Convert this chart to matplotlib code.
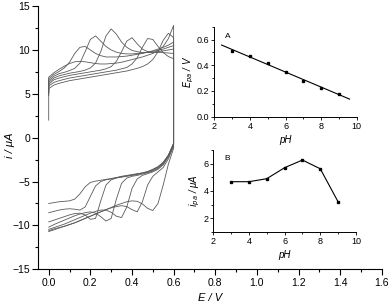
import numpy as np
import matplotlib
matplotlib.use('Agg')
import matplotlib.pyplot as plt
from matplotlib.ticker import MultipleLocator

plt.rcParams['font.family'] = ['Liberation Sans', 'DejaVu Sans']

# --- cyclic voltammograms, pH 3 ... 9 ---
ph = [3, 4, 5, 6, 7, 8, 9]
e_grid = [0.0, 0.025, 0.05, 0.075, 0.1, 0.125, 0.15, 0.175, 0.2, 0.225, 0.25, 0.275,
          0.3, 0.325, 0.35, 0.375, 0.4, 0.425, 0.45, 0.475, 0.5, 0.525, 0.55, 0.575, 0.6]

# current at the very start of the forward scan (E = 0)
i_start = [2.0, 4.8, 5.0, 5.1, 5.2, 5.3, 5.4]

# forward (anodic) scan, uA
i_fwd = [
    [5.6, 6.0, 6.2, 6.35, 6.5, 6.6, 6.7, 6.8, 6.9, 7.0, 7.1, 7.2, 7.3, 7.4, 7.5, 7.6,
     7.75, 7.9, 8.1, 8.4, 8.9, 9.8, 11.1, 11.9, 11.4],
    [5.9, 6.3, 6.5, 6.65, 6.8, 6.9, 7.0, 7.1, 7.2, 7.3, 7.4, 7.5, 7.6, 7.7, 7.85, 8.0,
     8.4, 9.1, 10.3, 11.3, 11.2, 10.4, 9.7, 9.25, 9.0],
    [6.1, 6.6, 6.8, 6.95, 7.1, 7.2, 7.3, 7.4, 7.5, 7.6, 7.7, 7.85, 8.1, 8.7, 9.8, 11.0,
     11.4, 10.7, 10.1, 9.8, 9.7, 9.7, 9.7, 9.65, 9.6],
    [6.3, 6.8, 7.05, 7.2, 7.35, 7.45, 7.55, 7.7, 7.95, 8.5, 9.8, 11.6, 12.4, 11.8, 10.9,
     10.3, 9.95, 9.8, 9.7, 9.7, 9.75, 9.8, 9.9, 10.0, 10.1],
    [6.5, 7.0, 7.3, 7.45, 7.65, 7.9, 8.5, 9.8, 11.2, 11.6, 11.0, 10.4, 10.0, 9.75, 9.6,
     9.55, 9.55, 9.6, 9.65, 9.75, 9.85, 9.95, 10.1, 10.3, 10.5],
    [6.7, 7.2, 7.55, 7.95, 8.6, 9.6, 10.3, 10.4, 10.0, 9.6, 9.35, 9.2, 9.2, 9.2, 9.25,
     9.3, 9.4, 9.5, 9.6, 9.75, 9.9, 10.1, 10.3, 10.55, 10.9],
    [6.9, 7.4, 7.8, 8.15, 8.45, 8.65, 8.7, 8.65, 8.55, 8.45, 8.4, 8.4, 8.45, 8.5, 8.6, 8.75,
     8.9, 9.05, 9.2, 9.4, 9.6, 9.9, 10.4, 11.3, 12.8],
]

# reverse (cathodic) scan, uA, listed on the same ascending grid
i_rev = [
    [-10.7, -10.5, -10.3, -10.1, -9.9, -9.7, -9.45, -9.2, -8.95, -8.7, -8.45, -8.2,
     -7.95, -7.7, -7.5, -7.3, -7.2, -7.25, -7.55, -8.05, -8.3, -7.5, -5.4, -3.0, -1.2],
    [-10.6, -10.4, -10.25, -10.1, -9.9, -9.7, -9.45, -9.2, -8.95, -8.7, -8.45, -8.2,
     -8.0, -7.85, -7.75, -7.85, -8.2, -8.45, -7.3, -5.4, -4.4, -3.9, -3.4, -2.4, -1.0],
    [-10.45, -10.25, -10.05, -9.85, -9.6, -9.35, -9.1, -8.85, -8.6, -8.4, -8.25, -8.25,
     -8.5, -8.95, -9.1, -7.9, -5.8, -4.7, -4.3, -4.1, -3.9, -3.6, -3.1, -2.2, -0.9],
    [-10.2, -9.9, -9.65, -9.4, -9.15, -8.9, -8.7, -8.55, -8.45, -8.6, -9.0, -9.5,
     -9.2, -7.0, -5.2, -4.6, -4.4, -4.3, -4.15, -4.0, -3.8, -3.5, -3.0, -2.1, -0.8],
    [-9.6, -9.4, -9.2, -9.0, -8.8, -8.65, -8.6, -8.8, -9.3, -9.2, -7.2, -5.4,
     -4.8, -4.6, -4.5, -4.4, -4.3, -4.2, -4.05, -3.9, -3.7, -3.4, -2.9, -2.0, -0.7],
    [-8.55, -8.4, -8.25, -8.15, -8.1, -8.15, -8.25, -7.9, -6.7, -5.5, -5.0, -4.8,
     -4.7, -4.55, -4.45, -4.35, -4.25, -4.15, -4.05, -3.9, -3.65, -3.35, -2.85, -2.0, -0.7],
    [-7.5, -7.4, -7.3, -7.25, -7.2, -7.0, -6.4, -5.6, -5.1, -4.95, -4.85, -4.75,
     -4.65, -4.55, -4.4, -4.3, -4.2, -4.1, -4.0, -3.85, -3.6, -3.3, -2.8, -2.0, -0.6],
]

# --- inset data ---
ph_pts = [3, 4, 5, 6, 7, 8, 9]
epa = [0.512, 0.470, 0.419, 0.347, 0.280, 0.225, 0.176]
ipa = [4.68, 4.68, 4.90, 5.71, 6.27, 5.63, 3.20]

fig = plt.figure(figsize=(3.92, 3.07), dpi=100)

ax = fig.add_axes([0.0977, 0.1228, 0.8763, 0.8574])
for k in range(len(ph)):
    e_loop = [0.0] + e_grid + e_grid[::-1]
    i_loop = [i_start[k]] + i_fwd[k] + i_rev[k][::-1]
    ax.plot(e_loop, i_loop, color='#5a5a5a', lw=0.6)

ax.set_xlim(-0.05, 1.6)
ax.set_ylim(-15, 15)
ax.xaxis.set_major_locator(MultipleLocator(0.2))
ax.xaxis.set_minor_locator(MultipleLocator(0.1))
ax.yaxis.set_major_locator(MultipleLocator(5))
ax.yaxis.set_minor_locator(MultipleLocator(2.5))
ax.xaxis.set_major_formatter(plt.FuncFormatter(lambda v, p: f'{v:.1f}'))
ax.tick_params(which='major', direction='out', length=4, width=0.8, labelsize=7.5, pad=2)
ax.tick_params(which='minor', direction='out', length=2.5, width=0.8)
for s in ['top', 'right']:
    ax.spines[s].set_visible(False)
for s in ['left', 'bottom']:
    ax.spines[s].set_linewidth(0.8)
ax.set_xlabel('E / V', fontsize=8, style='italic', labelpad=4)
ax.set_ylabel('i / μA', fontsize=8, style='italic')
ax.yaxis.set_label_coords(-0.068, 0.47)

# inset A: peak potential vs pH
axa = fig.add_axes([0.547, 0.620, 0.363, 0.293])
axa.plot(ph_pts, epa, 's', color='black', ms=2)
slope, icpt = np.polyfit(ph_pts, epa, 1)
xs = np.array([2.4, 9.6])
axa.plot(xs, slope * xs + icpt, color='black', lw=0.8)
axa.set_xlim(2, 10)
axa.set_ylim(0, 0.7)
axa.xaxis.set_major_locator(MultipleLocator(2))
axa.xaxis.set_minor_locator(MultipleLocator(1))
axa.yaxis.set_major_locator(MultipleLocator(0.2))
axa.yaxis.set_minor_locator(MultipleLocator(0.1))
axa.text(2.6, 0.615, 'A', fontsize=6)
axa.set_xlabel('pH', fontsize=7, style='italic', labelpad=3)
axa.set_ylabel('$E_{pa}$ / V', fontsize=7, style='italic', labelpad=1)

# inset B: peak current vs pH
axb = fig.add_axes([0.544, 0.245, 0.364, 0.266])
axb.plot(ph_pts, ipa, 's-', color='black', ms=2, lw=0.8)
axb.set_xlim(2, 10)
axb.set_ylim(1, 7)
axb.xaxis.set_major_locator(MultipleLocator(2))
axb.xaxis.set_minor_locator(MultipleLocator(1))
axb.yaxis.set_major_locator(MultipleLocator(2))
axb.yaxis.set_minor_locator(MultipleLocator(1))
axb.text(2.6, 6.3, 'B', fontsize=6)
axb.set_xlabel('pH', fontsize=7, style='italic', labelpad=3)
axb.set_ylabel('$i_{pa}$ / μA', fontsize=7, style='italic', labelpad=1)

for a in (axa, axb):
    a.set_facecolor('none')
    for s in ['top', 'right']:
        a.spines[s].set_visible(False)
    for s in ['left', 'bottom']:
        a.spines[s].set_linewidth(0.7)
    a.tick_params(which='major', direction='out', length=2.5, width=0.6, labelsize=6.5, pad=1)
    a.tick_params(which='minor', direction='out', length=1.5, width=0.6)

fig.savefig('out.png', dpi=100)
